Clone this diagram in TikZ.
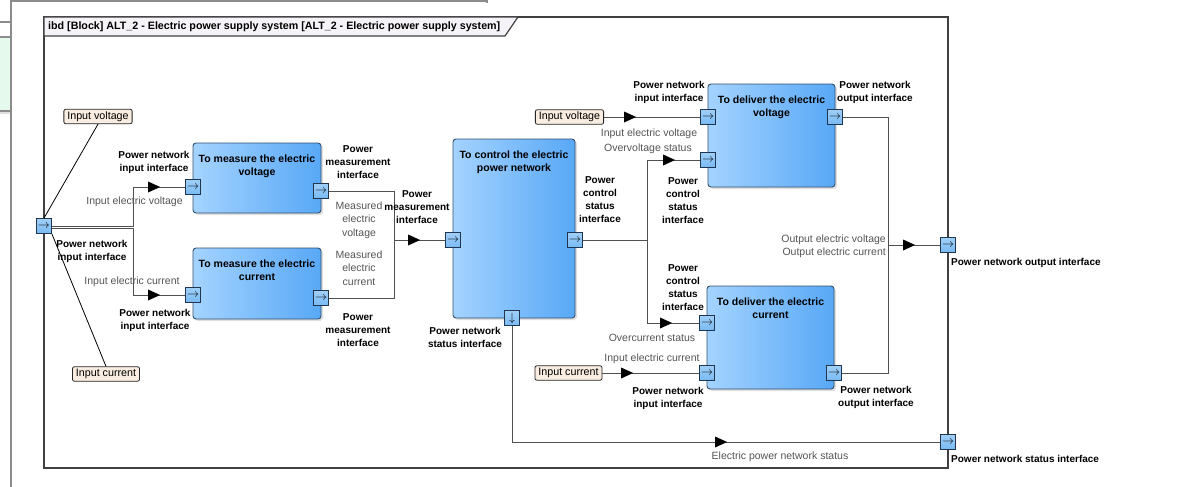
\documentclass[tikz,border=0pt]{standalone}
\usepackage{fontspec}
\setmainfont{Liberation Sans}
\usepackage{tikz}
\usetikzlibrary{positioning}
\usetikzlibrary{arrows.meta,decorations.markings,shadows}
\usepackage{xcolor}
\definecolor{blockleft}{HTML}{A4D3FF}
\definecolor{blockright}{HTML}{58A8F6}
\definecolor{blockline}{HTML}{34506F}
\definecolor{portfill}{HTML}{78BAF4}
\definecolor{portline}{HTML}{1F3550}
\definecolor{notefill}{HTML}{F8EDE0}
\definecolor{tabfill}{HTML}{F5F3F8}
\definecolor{panelfill}{HTML}{E5F9EC}
\definecolor{flowgrey}{HTML}{505050}
\definecolor{labelgrey}{HTML}{555555}

\begin{document}
\begin{tikzpicture}
[x=1pt, y=-1pt,
% The block style is used to draw the activity blocks
block/.style={rectangle, rounded corners=3pt, draw=blockline, line width=0.9pt, left color=blockleft, right color=blockright, drop shadow={shadow xshift=2pt, shadow yshift=-2pt, opacity=0.25}, inner sep=0pt},
% The blocktitle style is used to write the name of each block
blocktitle/.style={anchor=north, inner sep=0pt, align=center, font=\bfseries\fontsize{10.5}{13.5}\selectfont},
% The port style is used to draw the small flow ports
port/.style={rectangle, draw=portline, line width=0.8pt, top color=portfill!70!white, bottom color=portfill, minimum size=15pt, inner sep=0pt, font=\fontsize{12}{12}\selectfont},
% The note style is used for the input comments
note/.style={rectangle, rounded corners=2pt, draw=black!85, line width=0.8pt, fill=notefill, inner xsep=3.5pt, inner ysep=0pt, minimum height=14.5pt, font=\fontsize{10.7}{12}\selectfont},
portlabel/.style={inner sep=0pt, align=center, font=\bfseries\fontsize{10}{13}\selectfont},
flowlabel/.style={inner sep=0pt, align=center, text=labelgrey, font=\fontsize{10.5}{13.5}\selectfont},
frameline/.style={draw=black!75, line width=1.2pt},
uiline/.style={draw=black!45, line width=1.2pt},
notelink/.style={draw=black, line width=0.8pt},
line/.style={draw=flowgrey, line width=1pt},
flow/.style={line, decoration={markings, mark=at position #1 with {\fill[black] (0pt,0pt) -- (-12pt,5.5pt) -- (-12pt,-5.5pt) -- cycle;}}, postaction={decorate}}
]
\useasboundingbox (0,0) rectangle (1191,487);
% Window around the diagram
\fill[panelfill] (0,37) rectangle (11,111);
\draw[black!12, line width=2pt] (0,113) -- (11,113);
\draw[uiline] (0,22) -- (11,22);
\draw[uiline] (0,37) -- (11,37);
\draw[uiline] (0,111) -- (11,111);
\draw[uiline] (11,0) -- (11,487);
\draw[uiline] (11,1) -- (487,1) -- (487,3);
% Diagram frame
\draw[frameline, fill=white] (44,17) rectangle (948,468);
\draw[frameline, fill=tabfill] (44,17) -- (518,17) -- (505,36) -- (44,36) -- cycle;
\node[anchor=west, inner sep=0pt, font=\bfseries\fontsize{10.7}{12}\selectfont] (title) at (48,26.5) {ibd [Block] ALT\_2 - Electric power supply system [ALT\_2 - Electric power supply system]};

% Draw blocks
\node[block, minimum width=128pt, minimum height=70pt] (measvolt) at (257,178) {};
\node[block, minimum width=128pt, minimum height=71pt] (meascurr) at (257,283.5) {};
\node[block, minimum width=122pt, minimum height=179pt] (control) at (514,228.5) {};
\node[block, minimum width=127pt, minimum height=103pt] (delvolt) at (771.5,135.5) {};
\node[block, minimum width=127pt, minimum height=103pt] (delcurr) at (770.5,337.5) {};
\node[blocktitle] (tmeasvolt) at ([yshift=-12pt]measvolt.north) {To measure the electric\\voltage};
\node[blocktitle] (tmeascurr) at ([yshift=-12pt]meascurr.north) {To measure the electric\\current};
\node[blocktitle] (tcontrol) at ([yshift=-12pt]control.north) {To control the electric\\power network};
\node[blocktitle] (tdelvolt) at ([yshift=-12pt]delvolt.north) {To deliver the electric\\voltage};
\node[blocktitle] (tdelcurr) at ([yshift=-12pt]delcurr.north) {To deliver the electric\\current};

% Draw ports
\node[port] (psysin) at (44,226) {$\rightarrow$};
\node[port] (psysout) at (948,245) {$\rightarrow$};
\node[port] (psysstat) at (948,442) {$\rightarrow$};
\node[port] (pvin) at (193,187) {$\rightarrow$};
\node[port] (pvout) at (321,191) {$\rightarrow$};
\node[port] (pcin) at (193,295) {$\rightarrow$};
\node[port] (pcout) at (321,298) {$\rightarrow$};
\node[port] (pctin) at (453,240) {$\rightarrow$};
\node[port] (pctout) at (575,240) {$\rightarrow$};
\node[port] (pctstat) at (512,318) {$\downarrow$};
\node[port] (pdvin) at (708,117) {$\rightarrow$};
\node[port] (pdvov) at (708,160) {$\rightarrow$};
\node[port] (pdvout) at (835,117) {$\rightarrow$};
\node[port] (pdcoc) at (707,323) {$\rightarrow$};
\node[port] (pdcin) at (707,373) {$\rightarrow$};
\node[port] (pdcout) at (834,373) {$\rightarrow$};

% Input comments
\node[note] (vnoteL) at (98,116.5) {Input voltage};
\node[note] (cnoteL) at (106,374) {Input current};
\node[note] (vnoteR) at (569.5,117) {Input voltage};
\node[note] (cnoteR) at (568.5,373) {Input current};
\draw[notelink] (psysin.north) -- (vnoteL.south);
\draw[notelink] (psysin.south east) -- (cnoteL.north);

% Draw flows
\coordinate (splitvolt) at (133,226);
\coordinate (splitcurr) at (133,228.5);
\coordinate (joinmeas) at (394,240);
\coordinate (splitstat) at (647,240);
\coordinate (joinout) at (888,245);
\draw[flow=-25pt] (psysin.east) -- (splitvolt) |- (pvin.west);
\draw[flow=-25pt] ([yshift=-2.5pt]psysin.east) -- (splitcurr) |- (pcin.west);
\draw[flow=-25pt] (pvout.east) -| (joinmeas) -- (pctin.west);
\draw[line] (pcout.east) -| (joinmeas);
\draw[flow=-25pt] (pctout.east) -- (splitstat) |- (pdvov.west);
\draw[flow=-27pt] (pctout.east) -- (splitstat) |- (pdcoc.west);
\draw[flow=-64pt] (vnoteR.east) -- (pdvin.west);
\draw[flow=-66pt] (cnoteR.east) -- (pdcin.west);
\draw[flow=-25pt] (pdvout.east) -| (joinout) -- (psysout.west);
\draw[line] (pdcout.east) -| (joinout);
\draw[flow=-213pt] (pctstat.south) |- (psysstat.west);

% Port names
\node[portlabel] (lsysin) at (92,251.5) {Power network\\input interface};
\node[portlabel] (lvin) at (154,162.5) {Power network\\input interface};
\node[portlabel] (lcin) at (155,320) {Power network\\input interface};
\node[portlabel] (lvout) at (358,162) {Power\\measurement\\interface};
\node[portlabel] (lcout) at (358,330) {Power\\measurement\\interface};
\node[portlabel] (lctin) at (417,207) {Power\\measurement\\interface};
\node[portlabel] (lctstat) at (465,337) {Power network\\status interface};
\node[portlabel] (lctout) at (600,200) {Power\\control\\status\\interface};
\node[portlabel] (ldvin) at (669,92.5) {Power network\\input interface};
\node[portlabel] (ldvout) at (875,92.5) {Power network\\output interface};
\node[portlabel] (ldvov) at (683,201) {Power\\control\\status\\interface};
\node[portlabel] (ldcoc) at (683,287.5) {Power\\control\\status\\interface};
\node[portlabel] (ldcin) at (668,398) {Power network\\input interface};
\node[portlabel] (ldcout) at (876,397) {Power network\\output interface};
\node[portlabel, anchor=west] (lsysout) at (951,263) {Power network output interface};
\node[portlabel, anchor=west] (lsysstat) at (951,459) {Power network status interface};

% Flow names
\node[flowlabel] (fvin) at (134.5,202) {Input electric voltage};
\node[flowlabel] (fcin) at (132,282) {Input electric current};
\node[flowlabel] (fmeasv) at (359,220) {Measured\\electric\\voltage};
\node[flowlabel] (fmeasc) at (359,268) {Measured\\electric\\current};
\node[flowlabel] (fdvin) at (649,134) {Input electric voltage};
\node[flowlabel] (fdvov) at (648,149) {Overvoltage status};
\node[flowlabel] (fdcoc) at (652,338) {Overcurrent status};
\node[flowlabel] (fdcin) at (652,359) {Input electric current};
\node[flowlabel, align=right, anchor=east] (fout) at (886,246.5) {Output electric voltage\\Output electric current};
\node[flowlabel] (fstat) at (780,457) {Electric power network status};
\end{tikzpicture}
\end{document}
